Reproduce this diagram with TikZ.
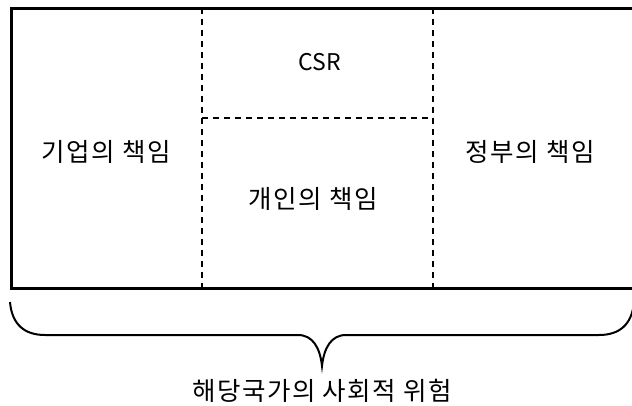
\documentclass[tikz,border=0pt]{standalone}
\usepackage{fontspec}
\setmainfont{Noto Sans CJK KR}
\newfontfamily\korfont[LetterSpace=6]{Noto Sans CJK KR}
\begin{document}
\begin{tikzpicture}[x=1pt,y=-1pt,
  outer/.style={line width=3pt},
  divider/.style={line width=1.8pt, dash pattern=on 6pt off 5pt},
  lbl/.style={font=\fontsize{23}{26}\selectfont, inner sep=0pt},
  klbl/.style={font=\korfont\fontsize{25.5}{28}\selectfont, inner sep=0pt},
  bracestyle/.style={line width=2pt}]
\useasboundingbox (0,0) rectangle (632,405);
\clip (0,0) rectangle (632,405);
\coordinate (tl) at (11,8);
\coordinate (br) at (640,288);
\draw[outer] (tl) rectangle (br);
\coordinate (v1t) at (202,8);
\coordinate (v1b) at (202,288);
\coordinate (v2t) at (433,8);
\coordinate (v2b) at (433,288);
\coordinate (hl) at (202,118);
\coordinate (hr) at (433,118);
\draw[divider] (v1t) -- (v1b);
\draw[divider] (v2t) -- (v2b);
\draw[divider] (hl) -- (hr);
\node[lbl] (csr) at (320,62) {CSR};
\node[klbl] (corp) at (106,152) {기업의 책임};
\node[klbl] (indiv) at (313,199) {개인의 책임};
\node[klbl] (gov) at (530,152) {정부의 책임};
\coordinate (bl) at (10,302);
\coordinate (tip) at (322,366);
\coordinate (brr) at (634,302);
\draw[bracestyle] (bl) .. controls (12,325) and (25,335) .. (45,335) -- (298,335)
  .. controls (313,335) and (320,348) .. (tip)
  .. controls (324,348) and (331,335) .. (346,335) -- (599,335)
  .. controls (619,335) and (632,325) .. (brr);
\node[klbl] (risk) at (322,391) {해당국가의 사회적 위험};
\end{tikzpicture}
\end{document}
